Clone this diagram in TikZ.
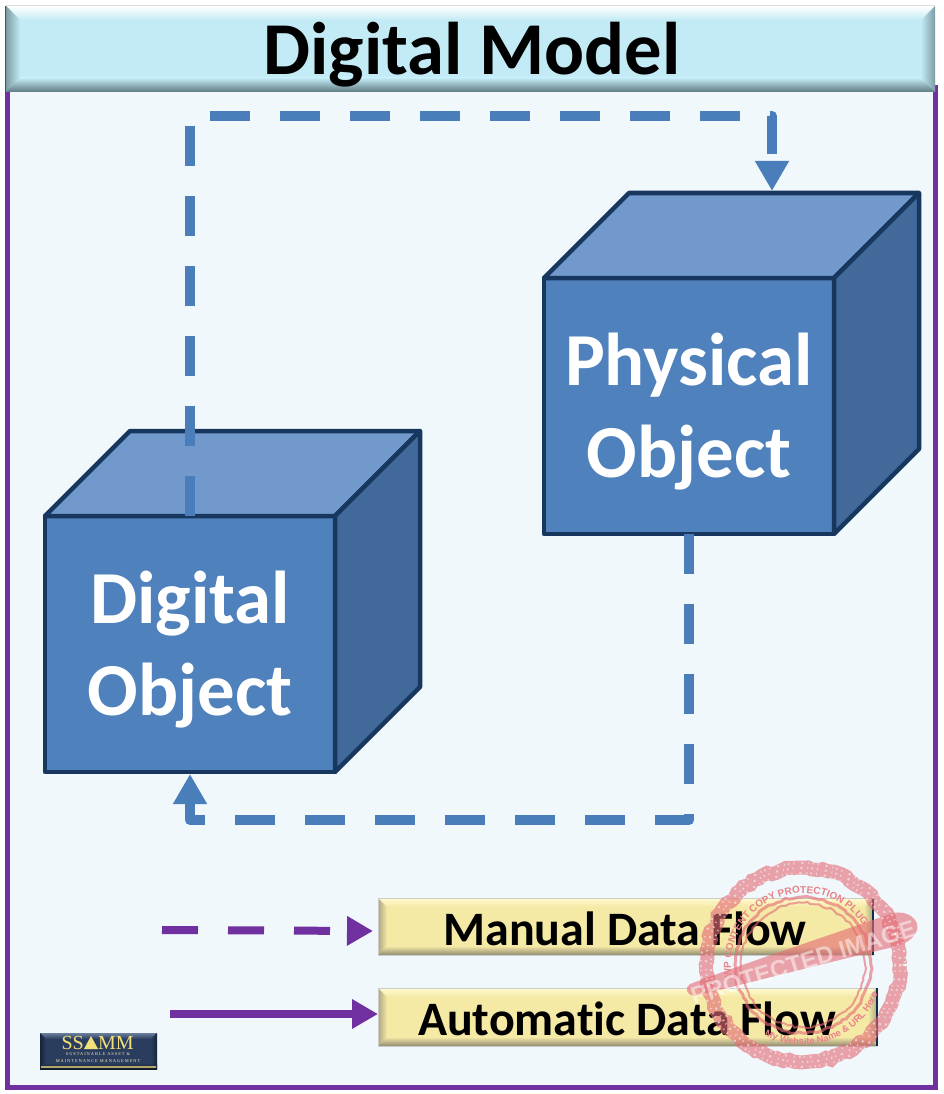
\documentclass[tikz,border=0pt]{standalone}
\usepackage{fontspec}
\setmainfont[Ligatures=NoCommon]{Carlito}
\newfontfamily\logofont{Liberation Serif}
\newfontfamily\logosmall[LetterSpace=22]{Liberation Serif}
\newfontfamily\stampfont{Liberation Sans}
\usetikzlibrary{arrows.meta,decorations.text,decorations.pathmorphing}
\definecolor{frameP}{HTML}{7030A0}
\definecolor{panelB}{HTML}{F0F8FC}
\definecolor{faceF}{HTML}{4F81BD}
\definecolor{faceT}{HTML}{7299CC}
\definecolor{faceS}{HTML}{41699A}
\definecolor{edgeC}{HTML}{17375E}
\definecolor{flowB}{HTML}{4A7EBB}
\definecolor{stampR}{HTML}{E46C75}
\definecolor{bannerC}{HTML}{C3EBF5}
\definecolor{bannerD}{HTML}{5E7A80}
\definecolor{legendY}{HTML}{F5E9A6}
\definecolor{legendL}{HTML}{FFFBD0}
\definecolor{legendD}{HTML}{8F8A70}
\definecolor{logoN}{HTML}{2A3D5E}
\definecolor{logoL}{HTML}{6A7F9E}
\definecolor{logoD}{HTML}{10192C}
\definecolor{logoG}{HTML}{B5A66A}
\definecolor{logoY}{HTML}{F2DF7A}
\tikzset{
  cubeface/.style={draw=edgeC,line width=4.5pt,line join=round},
  frontface/.style={cubeface,fill=faceF,minimum width=290pt,minimum height=256pt,inner sep=0pt,outer sep=0pt},
  cubetext/.style={text=white,align=center,inner sep=0pt,font=\bfseries\fontsize{74.8}{92}\selectfont},
  flowline/.style={draw=flowB,line width=10pt,line join=round,dash pattern=on 40pt off 30pt,-{Triangle[length=30pt,width=32pt,fill=flowB]}},
  legendline/.style={draw=frameP,line width=8pt,-{Triangle[length=26pt,width=28pt,fill=frameP]}},
  legendtext/.style={font=\bfseries\fontsize{48}{50}\selectfont,text=black,inner sep=0pt,anchor=base},
  stamp/.style={stampR,opacity=.62},
  speckle/.style={panelB,opacity=.6,line width=2pt,dash pattern=on 1.5pt off 4pt on 1pt off 7pt on 2pt off 5pt on 1pt off 3pt},
}
\newcommand{\bevelbox}[8]{% x1 y1 x2 y2 bevel base light dark
  \fill[#6] (#1,#2) rectangle (#3,#4);
  \shade[top color=#7,bottom color=#6] (#1,#2)--(#3,#2)--({#3-#5},{#2+#5})--({#1+#5},{#2+#5})--cycle;
  \shade[top color=#6,bottom color=#8] (#1,{#4-#5})--(#3,{#4-#5})--(#3,#4)--(#1,#4)--cycle;
  \shade[left color=#8!70!#6,right color=#6] (#1,#2)--({#1+#5},{#2+#5})--({#1+#5},{#4-#5})--(#1,#4)--cycle;
  \shade[left color=#6,right color=#8!70!#6] (#3,#2)--({#3-#5},{#2+#5})--({#3-#5},{#4-#5})--(#3,#4)--cycle;
}
\begin{document}
\begin{tikzpicture}[x=1pt,y=-1pt]
\useasboundingbox (0,0) rectangle (943,1094);
\fill[white] (0,0) rectangle (943,1094);
% frame and panel
\draw[frameP,line width=5pt,fill=panelB] (7.5,88) rectangle (935.5,1087);
% banner
\fill[frameP] (5,6) rectangle (7,92);
\draw[gray!30,line width=1pt] (6,5.5)--(935,5.5);
\bevelbox{6}{6}{935}{92}{14}{bannerC}{white}{bannerD}
\node[font=\bfseries\fontsize{74.6}{75}\selectfont,text=black,inner sep=0pt,anchor=base] (title) at (472,75) {Digital Model};
% physical cube
\node[frontface] (phys) at (689,406) {};
\draw[cubeface,fill=faceT] (phys.north west)--++(85,-85)--++(290,0)--(phys.north east)--cycle;
\draw[cubeface,fill=faceS] (phys.north east)--++(85,-85)--++(0,256)--(phys.south east)--cycle;
\node[cubetext] (physT) at (689,412) {Physical\\Object};
% digital cube
\node[frontface] (digi) at (190,644) {};
\draw[cubeface,fill=faceT] (digi.north west)--++(85,-85)--++(290,0)--(digi.north east)--cycle;
\draw[cubeface,fill=faceS] (digi.north east)--++(85,-85)--++(0,256)--(digi.south east)--cycle;
\node[cubetext] (digiT) at (190,650) {Digital\\Object};
% flows
\coordinate (ptop) at (772,191);
\coordinate (dbot) at (190,774);
\draw[flowline] (digi.north)--(190,116)--(772,116)--(ptop);
\draw[flowline] (phys.south)--(689,820)--(190,820)--(dbot);
% legend
\bevelbox{378}{898}{873}{955}{9}{legendY}{legendL}{legendD}
\bevelbox{378}{988}{877}{1046}{9}{legendY}{legendL}{legendD}
\draw[gray!40,line width=1pt] (378,898)--(873,898) (378,988)--(877,988) (378,955)--(873,955) (378,1046)--(877,1046) (378,898)--(378,955) (378,988)--(378,1046);
\draw[edgeC!80!black,line width=1.5pt] (873,898)--(873,955) (877,988)--(877,1046);
\node[legendtext] (manual) at (625,945) {Manual Data Flow};
\node[legendtext] (auto) at (627,1035) {Automatic Data Flow};
\coordinate (m0) at (162,930);
\coordinate (m1) at (373,931);
\coordinate (a0) at (170,1014);
\coordinate (a1) at (378,1014);
\draw[legendline,dash pattern=on 36pt off 30pt] (m0)--(m1);
\draw[legendline] (a0)--(a1);
% logo
\bevelbox{40}{1033}{157}{1069}{6}{logoN}{logoL}{logoD}
\fill[logoG] (41,1066) rectangle (156,1068);
\node[text=logoY,font=\logofont\fontsize{20}{20}\selectfont,inner sep=0pt,anchor=base east] (ss) at (84,1049) {SS};
\node[text=logoY,font=\logofont\fontsize{20}{20}\selectfont,inner sep=0pt,anchor=base west] (mm) at (98,1049) {MM};
\fill[logoY] (91,1036)--(98,1049)--(84,1049)--cycle;
\node[text=logoY!60!white,font=\logosmall\fontsize{4.4}{7}\selectfont,inner sep=0pt,align=center] (sub) at (98,1057.5) {SUSTAINABLE ASSET \&\\MAINTENANCE MANAGEMENT};
% protection stamp
\begin{scope}[stamp]
  \draw[line width=14pt,decorate,decoration={random steps,segment length=5pt,amplitude=1.6pt}] (803,965) circle (97);
  \draw[line width=3pt,decorate,decoration={random steps,segment length=4pt,amplitude=1.2pt}] (803,965) circle (68);
  \draw[line width=2pt,decorate,decoration={random steps,segment length=4pt,amplitude=1.2pt}] (803,965) circle (62);
  \fill (690,984) .. controls (760,958) and (830,935) .. (893,913)
     .. controls (908,910) and (920,920) .. (917,930)
     .. controls (913,942) and (900,945) .. (893,947)
     .. controls (830,962) and (760,980) .. (695,996)
     .. controls (685,995) and (685,987) .. (690,984) -- cycle;
\end{scope}
\draw[speckle] (803,965) circle (92);
\draw[speckle] (803,965) circle (97);
\draw[speckle] (803,965) circle (102);
\path[decorate,decoration={text along path,text align=center,text={|\stampfont\bfseries\fontsize{10}{11}\selectfont\color{stampR!85!white}|WP CONTENT COPY PROTECTION PLUGIN}}]
    (731,965) arc[start angle=180,end angle=325,radius=72];
\path[decorate,decoration={text along path,text align=center,text={|\stampfont\bfseries\fontsize{9.5}{11}\selectfont\color{stampR!85!white}|My Website Name {\&} URL Here}}]
    (763,1034.3) arc[start angle=120,end angle=20,radius=80];
\node[text=white,opacity=.5,rotate=17,font=\stampfont\bfseries\fontsize{24}{26}\selectfont,inner sep=0pt] (prot) at (803,962) {PROTECTED IMAGE};
\end{tikzpicture}
\end{document}
